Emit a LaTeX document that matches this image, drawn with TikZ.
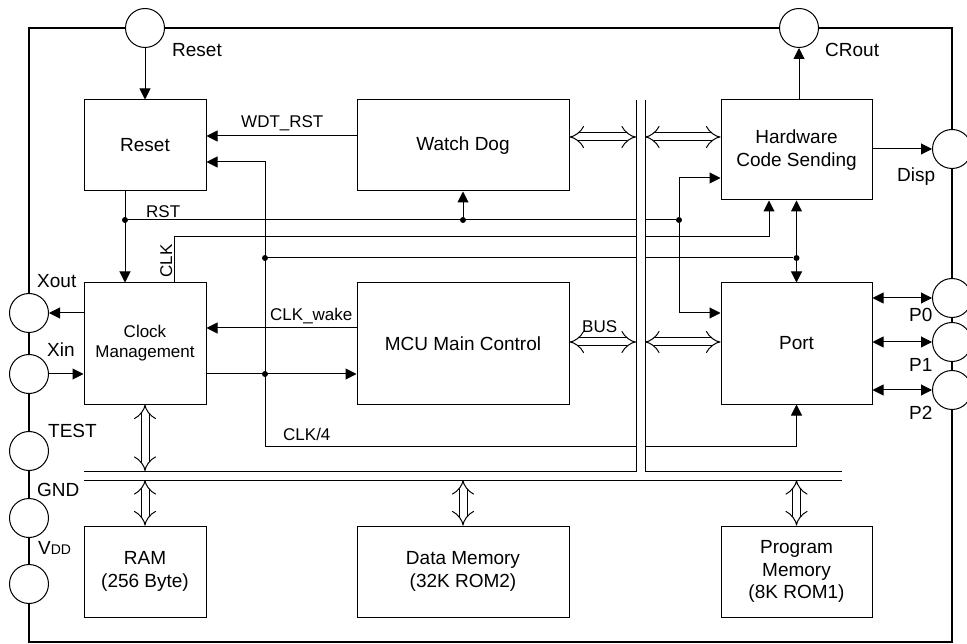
\documentclass[tikz,border=0pt]{standalone}
\usepackage{fontspec}
\setmainfont{Liberation Sans}
\usetikzlibrary{arrows.meta}
\tikzset{
	block/.style={draw, line width=1pt, align=center, inner sep=0pt, font=\fontsize{19}{22.5}\selectfont},
	pin/.style={draw, circle, fill=white, line width=1pt, minimum size=39pt, inner sep=0pt},
	pinlabel/.style={anchor=base west, inner sep=0pt, font=\fontsize{19}{22}\selectfont},
	siglabel/.style={anchor=base west, inner sep=0pt, font=\fontsize{17}{20}\selectfont},
	wire/.style={line width=1pt},
	sig/.style={wire, -{Triangle[length=11pt, width=11pt]}},
	bisig/.style={wire, {Triangle[length=11pt, width=11pt]}-{Triangle[length=11pt, width=11pt]}},
	junction/.style={circle, fill, inner sep=0pt, minimum size=6pt},
	busway/.style={double, double distance=7pt, line width=1pt, {Implies}-{Implies}}
}

\begin{document}
\begin{tikzpicture}[x=1pt, y=-1pt]
	\useasboundingbox (0,0) rectangle (967,644);
	\clip (0,0) rectangle (967,644);
	\fill[white] (0,0) rectangle (967,644);
	\draw[line width=2pt] (29,28) rectangle (952,642);
	\node[block, minimum width=122pt, minimum height=91pt] (reset) at (145,145.5) {Reset};
	\node[block, minimum width=212pt, minimum height=91pt] (watchdog) at (463,145.5) {Watch Dog};
	\node[block, minimum width=151pt, minimum height=100pt] (hcs) at (796.5,150) {Hardware\\Code Sending};
	\node[block, minimum width=122pt, minimum height=121pt, font=\fontsize{17}{20}\selectfont] (clock) at (145,343.5) {Clock\\Management};
	\node[block, minimum width=212pt, minimum height=121pt] (mcu) at (463,343.5) {MCU Main Control};
	\node[block, minimum width=151pt, minimum height=121pt] (port) at (796.5,343.5) {Port};
	\node[block, minimum width=122pt, minimum height=91pt] (ram) at (145,571.5) {RAM\\(256 Byte)};
	\node[block, minimum width=212pt, minimum height=91pt] (dmem) at (463,571.5) {Data Memory\\(32K ROM2)};
	\node[block, minimum width=151pt, minimum height=91pt] (pmem) at (796.5,571.5) {Program\\Memory\\(8K ROM1)};
	\node[pin] (pinReset) at (145,28) {};
	\node[pin] (pinCRout) at (799,28) {};
	\node[pin] (pinDisp) at (952,149) {};
	\node[pin] (pinP0) at (952,298) {};
	\node[pin] (pinP1) at (952,342) {};
	\node[pin] (pinP2) at (952,390) {};
	\node[pin] (pinXout) at (29,313) {};
	\node[pin] (pinXin) at (29,374) {};
	\node[pin] (pinTest) at (29,451) {};
	\node[pin] (pinGnd) at (29,518) {};
	\node[pin] (pinVdd) at (29,584) {};
	\node[junction] (jRst) at (125,220) {};
	\node[junction] (jWdt) at (463,220) {};
	\node[junction] (jRight) at (679,220) {};
	\node[junction] (jClkA) at (265,258) {};
	\node[junction] (jClkB) at (796.5,258) {};
	\node[junction] (jClkC) at (265,374) {};
	\draw[sig] (pinReset) -- (reset);
	\draw[sig] (watchdog.west |- 0,136) -- (reset.east |- 0,136);
	\draw[bisig] (reset.east |- 0,162) -| (265,446) -| (port.south);
	\draw[sig] (reset.south -| jRst) -- (clock.north -| jRst);
	\draw[wire] (jRst) -- (jRight);
	\draw[sig] (jWdt) -- (watchdog.south);
	\draw[sig] (jRight) |- (hcs.west |- 0,178);
	\draw[sig] (jRight) |- (port.west |- 0,313);
	\draw[sig] (clock.north -| 174,0) |- (769,237) -- (hcs.south -| 769,0);
	\draw[wire] (jClkA) -- (jClkB);
	\draw[bisig] (hcs.south) -- (port.north);
	\draw[sig] (mcu.west |- 0,328) -- (clock.east |- 0,328);
	\draw[sig] (clock.east |- jClkC) -- (mcu.west |- jClkC);
	\draw[sig] (clock.west |- pinXout) -- (pinXout);
	\draw[sig] (pinXin) -- (clock.west |- pinXin);
	\draw[sig] (hcs.north -| pinCRout) -- (pinCRout);
	\draw[sig] (hcs.east |- pinDisp) -- (pinDisp);
	\foreach \p in {pinP0,pinP1,pinP2} \draw[bisig] (port.east |- \p) -- (\p);
	\fill[white] (636.5,100) rectangle (644.5,471);
	\draw[wire] (84,471) -| (636,100);
	\draw[wire] (645,100) |- (842,471);
	\draw[wire] (84,480) -- (842,480);
	\draw[busway] (watchdog.east |- 0,137) -- (636,137);
	\draw[busway] (645,137) -- (hcs.west |- 0,137);
	\draw[busway] (mcu.east |- 0,342) -- (636,342);
	\draw[busway] (645,342) -- (port.west |- 0,342);
	\draw[busway] (clock.south) -- (145,471);
	\draw[busway] (145,480) -- (ram.north);
	\draw[busway] (463,480) -- (dmem.north);
	\draw[busway] (796.5,480) -- (pmem.north);
	\node[pinlabel] (tReset) at (172,57) {Reset};
	\node[pinlabel] (tCRout) at (825,57) {CRout};
	\node[pinlabel] (tDisp) at (897,182) {Disp};
	\node[pinlabel] (tXout) at (37,288) {Xout};
	\node[pinlabel] (tXin) at (47,356) {Xin};
	\node[pinlabel] (tTest) at (48,437) {TEST};
	\node[pinlabel] (tGnd) at (37,496) {GND};
	\node[pinlabel] (tVdd) at (38,554) {V{\fontsize{14}{16}\selectfont DD}};
	\node[pinlabel] (tP0) at (909,322) {P0};
	\node[pinlabel] (tP1) at (909,372) {P1};
	\node[pinlabel] (tP2) at (909,420) {P2};
	\node[siglabel] (tWdtRst) at (241,128) {WDT\_RST};
	\node[siglabel] (tRst) at (146,218) {RST};
	\node[siglabel, rotate=90, anchor=base] (tClk) at (172,261) {CLK};
	\node[siglabel] (tWake) at (270,321) {CLK\_wake};
	\node[siglabel] (tClk4) at (283,440) {CLK/4};
	\node[siglabel] (tBus) at (582,333) {BUS};
\end{tikzpicture}
\end{document}
